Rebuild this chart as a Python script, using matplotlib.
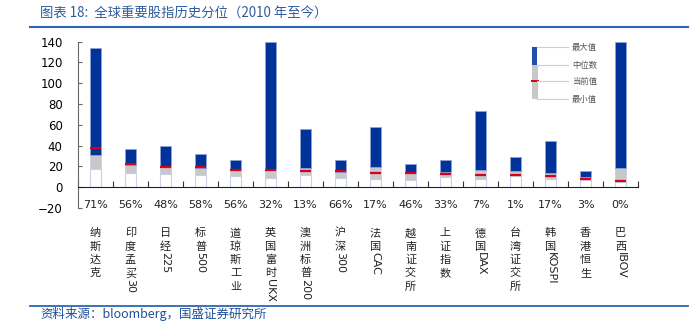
import matplotlib
matplotlib.use("Agg")
import matplotlib.pyplot as plt
import numpy as np

plt.rcParams['font.family'] = ['DejaVu Sans', 'Noto Sans CJK SC']

# data
names = ['纳斯达克', '印度孟买30', '日经225', '标普500', '道琼斯工业', '英国富时UKX',
         '澳洲标普200', '沪深300', '法国CAC', '越南证交所', '上证指数', '德国DAX',
         '台湾证交所', '韩国KOSPI', '香港恒生', '巴西IBOV']
pct = ['71%', '56%', '48%', '58%', '56%', '32%', '13%', '66%', '17%', '46%',
       '33%', '7%', '1%', '17%', '3%', '0%']
v_min = [17.8, 13.5, 12.9, 12.0, 10.6, 9.1, 11.6, 9.1, 7.7, 6.5, 9.4, 7.7, 11.0, 7.7, 6.5, 4.8]
v_med = [31.3, 20.9, 20.2, 18.5, 16.4, 17.7, 18.4, 14.2, 19.0, 13.8, 14.5, 16.8, 15.8, 13.9, 10.0, 18.0]
v_max = [133.6, 36.4, 39.6, 31.6, 26.1, 140.0, 55.7, 25.8, 57.6, 21.9, 25.8, 73.0, 29.3, 44.1, 15.8, 140.0]
v_cur = [37.4, 21.9, 19.6, 19.4, 16.8, 16.4, 15.8, 15.8, 13.5, 13.3, 12.9, 12.0, 11.6, 11.0, 7.7, 5.5]

blue = '#003399'
gray = '#C8C8C8'
red = '#D8001C'
hdr = '#2E67B1'

W, H = 698, 327
fig = plt.figure(figsize=(W / 100, H / 100), dpi=100)

ax = fig.add_axes([78 / W, 1 - 208 / H, 560 / W, (208 - 41.6) / H])
x = np.arange(len(names))
bw = 0.29
v_min = np.array(v_min)
v_med = np.array(v_med)
v_max = np.array(v_max)

ax.bar(x, v_min, bw, color='white', edgecolor='#C9D1E6', linewidth=0.8, zorder=2)
ax.bar(x, v_med - v_min, bw, bottom=v_min, color=gray, edgecolor='#C9D1E6',
       linewidth=0.6, zorder=2)
ax.bar(x, v_max - v_med, bw, bottom=v_med, color=blue, edgecolor='#8FA3D4',
       linewidth=0.6, zorder=2)
ax.hlines(v_cur, x - bw / 2, x + bw / 2, color=red, linewidth=1.6, zorder=3)

ax.set_xlim(-0.5, len(names) - 0.5)
ax.set_ylim(-20, 140)
ax.set_yticks(np.arange(-20, 141, 20))
ax.tick_params(axis='y', direction='in', length=3, width=0.8, color='#666666',
               labelsize=8.5, pad=11)
ax.set_xticks(np.arange(len(names) + 1) - 0.5)
ax.set_xticklabels([])
ax.tick_params(axis='x', direction='in', length=4, width=0.8, color='#333333')
ax.spines['bottom'].set_position(('data', 0))
ax.spines['bottom'].set_color('#222222')
ax.spines['left'].set_color('#666666')
ax.spines['top'].set_visible(False)
ax.spines['right'].set_visible(False)

# percentile labels and vertical category names
for i, (nm, p) in enumerate(zip(names, pct)):
    ax.text(i, -17.5, p, ha='center', va='center', fontsize=8, color='#222222')
    cjk = ''.join(c for c in nm if ord(c) > 127)
    lat = ''.join(c for c in nm if ord(c) <= 127)
    for k, c in enumerate(cjk):
        ax.annotate(c, xy=(i, -20), xytext=(0, -18.2 - 9.6 * k), textcoords='offset points',
                    ha='center', va='center', fontsize=8, color='#222222',
                    family='Noto Sans CJK SC', annotation_clip=False)
    if lat:
        ax.annotate(lat, xy=(i, -20), xytext=(0, -18.2 - 9.6 * (len(cjk) - 1) - 3.8),
                    textcoords='offset points', ha='center', va='top', rotation=-90,
                    fontsize=8, color='#222222', annotation_clip=False)

# legend glyph
lg = fig.add_axes([528 / W, 1 - 99 / H, 72 / W, 51.7 / H])
lg.set_xlim(0, 1)
lg.set_ylim(0, 1)
lg.axis('off')
lg_med, lg_cur = 0.658, 0.354
lg.bar(0.09, lg_med, 0.07, color=gray, edgecolor='#BBBBBB', linewidth=0.5)
lg.bar(0.09, 1 - lg_med, 0.07, bottom=lg_med, color='#1F4FA8', linewidth=0)
lg.plot([0.035, 0.15], [lg_cur, lg_cur], color=red, lw=1.4, solid_capstyle='butt')
for yy, t in zip([1, lg_med, lg_cur, 0], ['最大值', '中位数', '当前值', '最小值']):
    lg.plot([0.125, 0.556], [yy, yy], color='#CFCFCF', lw=0.8, clip_on=False)
    lg.text(0.611, yy - 0.01, t, ha='left', va='center', fontsize=6, color='#555555',
            family='Noto Sans CJK SC', clip_on=False)

# header / footer
fig.text(40 / W, 1 - 13 / H, '图表 18:  全球重要股指历史分位（2010 年至今）', ha='left',
         va='center', fontsize=9.6, color='#2F5A9E', family=['Noto Sans CJK SC', 'DejaVu Sans'],
         style='italic')
fig.add_artist(plt.Line2D([30 / W, 688 / W], [1 - 27 / H, 1 - 27 / H], color=hdr, lw=1.5))
fig.add_artist(plt.Line2D([30 / W, 688 / W], [1 - 305.5 / H, 1 - 305.5 / H], color=hdr, lw=1.3))
fig.text(40 / W, 1 - 314 / H, '资料来源：bloomberg，国盛证券研究所', ha='left', va='center',
         fontsize=9, color='#1F4E9A', family=['Noto Sans CJK SC', 'DejaVu Sans'],
         style='italic')

fig.savefig('out.png', dpi=100)
